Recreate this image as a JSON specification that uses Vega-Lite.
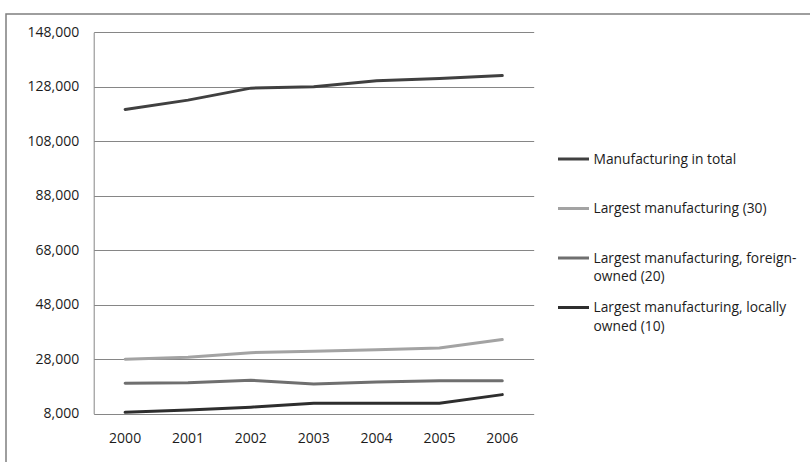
{
  "$schema": "https://vega.github.io/schema/vega-lite/v6.json",
  "width": 810,
  "height": 460,
  "autosize": {"type": "none"},
  "padding": {"left": 6, "top": 14, "right": 0, "bottom": 0},
  "background": "white",
  "config": {
    "font": "Open Sans",
    "view": {"stroke": "#7f7f7f", "strokeWidth": 1.5},
    "axis": {"labelFont": "Open Sans", "labelFontSize": 14, "labelColor": "#1c1c1c"},
    "legend": {"labelFont": "Open Sans", "labelFontSize": 13.8, "labelColor": "#1c1c1c"}
  },
  "data": {
    "values": [
      {"year": "2000", "series": "Manufacturing in total", "value": 119700},
      {"year": "2001", "series": "Manufacturing in total", "value": 123100},
      {"year": "2002", "series": "Manufacturing in total", "value": 127500},
      {"year": "2003", "series": "Manufacturing in total", "value": 128000},
      {"year": "2004", "series": "Manufacturing in total", "value": 130200},
      {"year": "2005", "series": "Manufacturing in total", "value": 131000},
      {"year": "2006", "series": "Manufacturing in total", "value": 132100},
      {"year": "2000", "series": "Largest manufacturing (30)", "value": 28000},
      {"year": "2001", "series": "Largest manufacturing (30)", "value": 28700},
      {"year": "2002", "series": "Largest manufacturing (30)", "value": 30400},
      {"year": "2003", "series": "Largest manufacturing (30)", "value": 30900},
      {"year": "2004", "series": "Largest manufacturing (30)", "value": 31500},
      {"year": "2005", "series": "Largest manufacturing (30)", "value": 32100},
      {"year": "2006", "series": "Largest manufacturing (30)", "value": 35200},
      {"year": "2000", "series": "Largest manufacturing, foreign-owned (20)", "value": 19200},
      {"year": "2001", "series": "Largest manufacturing, foreign-owned (20)", "value": 19400},
      {"year": "2002", "series": "Largest manufacturing, foreign-owned (20)", "value": 20300},
      {"year": "2003", "series": "Largest manufacturing, foreign-owned (20)", "value": 18900},
      {"year": "2004", "series": "Largest manufacturing, foreign-owned (20)", "value": 19600},
      {"year": "2005", "series": "Largest manufacturing, foreign-owned (20)", "value": 20100},
      {"year": "2006", "series": "Largest manufacturing, foreign-owned (20)", "value": 20100},
      {"year": "2000", "series": "Largest manufacturing, locally owned (10)", "value": 8500},
      {"year": "2001", "series": "Largest manufacturing, locally owned (10)", "value": 9400},
      {"year": "2002", "series": "Largest manufacturing, locally owned (10)", "value": 10400},
      {"year": "2003", "series": "Largest manufacturing, locally owned (10)", "value": 11800},
      {"year": "2004", "series": "Largest manufacturing, locally owned (10)", "value": 11800},
      {"year": "2005", "series": "Largest manufacturing, locally owned (10)", "value": 11800},
      {"year": "2006", "series": "Largest manufacturing, locally owned (10)", "value": 15000}
    ]
  },
  "mark": {"type": "line", "strokeWidth": 3, "strokeCap": "round"},
  "encoding": {
    "x": {
      "field": "year",
      "type": "ordinal",
      "scale": {"type": "band", "range": [87.7, 527.7], "paddingInner": 0, "paddingOuter": 0},
      "axis": {
        "title": null,
        "orient": "bottom",
        "offset": -60.3,
        "domain": false,
        "ticks": false,
        "tickSize": 0,
        "grid": false,
        "labelAngle": 0,
        "labelPadding": 18
      }
    },
    "y": {
      "field": "value",
      "type": "quantitative",
      "scale": {"domain": [8000, 148000], "range": [399.7, 18.3], "nice": false, "zero": false},
      "axis": {
        "title": null,
        "offset": -87.7,
        "values": [8000, 28000, 48000, 68000, 88000, 108000, 128000, 148000],
        "format": ",.0f",
        "ticks": false,
        "tickSize": 0,
        "labelPadding": 15,
        "domainColor": "#868686",
        "domainWidth": 1,
        "grid": true,
        "gridColor": "#868686",
        "gridWidth": 1,
        "gridOpacity": 1
      }
    },
    "color": {
      "field": "series",
      "type": "nominal",
      "scale": {
        "domain": [
          "Manufacturing in total",
          "Largest manufacturing (30)",
          "Largest manufacturing, foreign-owned (20)",
          "Largest manufacturing, locally owned (10)"
        ],
        "range": ["#404040", "#a3a3a3", "#6f6f6f", "#2e2e2e"]
      },
      "legend": {
        "title": null,
        "orient": "none",
        "legendX": 550.5,
        "legendY": 128,
        "padding": 0,
        "symbolType": "stroke",
        "symbolSize": 961,
        "symbolStrokeWidth": 3,
        "labelOffset": 3,
        "rowPadding": 6.5,
        "labelLimit": 300,
        "labelBaseline": "alphabetic",
        "labelExpr": "datum.label == 'Largest manufacturing, foreign-owned (20)' ? ['Largest manufacturing, foreign-', 'owned (20)'] : datum.label == 'Largest manufacturing, locally owned (10)' ? ['Largest manufacturing, locally', 'owned (10)'] : [datum.label, ' ']",
        "encode": {
          "labels": {"update": {"dy": {"value": 4.5}, "lineHeight": {"value": 18.5}}}
        }
      }
    }
  }
}
